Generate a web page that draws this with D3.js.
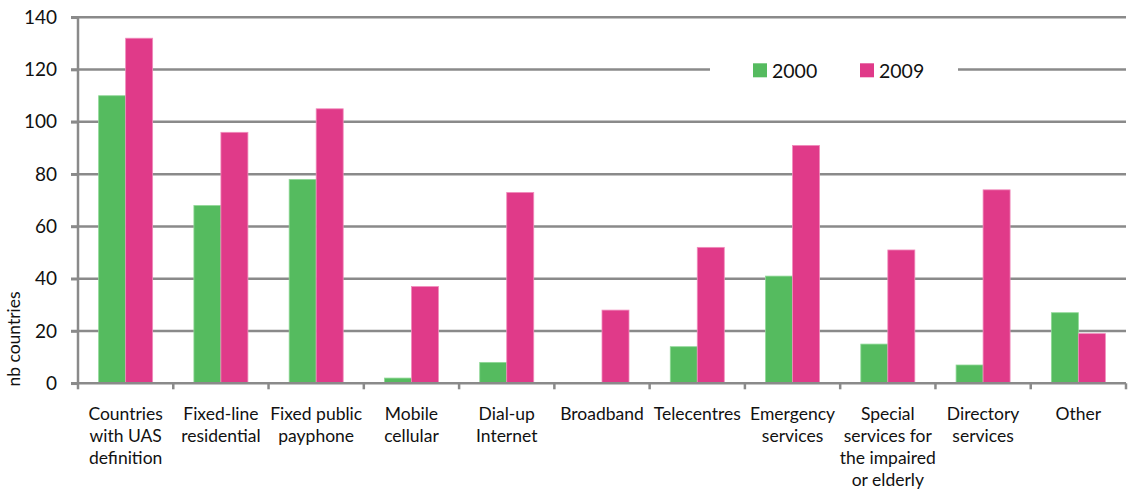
<!DOCTYPE html>
<html>
<head>
<meta charset="utf-8">
<script src="https://cdn.jsdelivr.net/npm/d3@7"></script>
<style>
  html, body { margin: 0; padding: 0; background: #fff; }
  svg { display: block; font-family: Lato, "Open Sans", sans-serif; }
</style>
</head>
<body>
<svg id="chart" width="1136" height="491"></svg>
<script>
// Universal access service obligations, number of countries
const categories = [
  ["Countries", "with UAS", "definition"],
  ["Fixed-line", "residential"],
  ["Fixed public", "payphone"],
  ["Mobile", "cellular"],
  ["Dial-up", "Internet"],
  ["Broadband"],
  ["Telecentres"],
  ["Emergency", "services"],
  ["Special", "services for", "the impaired", "or elderly"],
  ["Directory", "services"],
  ["Other"]
];
const seriesNames = ["2000", "2009"];
const values2000 = [110, 68, 78, 2, 8, 0, 14, 41, 15, 7, 27];
const values2009 = [132, 96, 105, 37, 73, 28, 52, 91, 51, 74, 19];
const yTicks = [0, 20, 40, 60, 80, 100, 120, 140];
const yTitle = "nb countries";

const colors = { "2000": "#55bb5f", "2009": "#e03a89" };
const strokes = { "2000": "#8fd896", "2009": "#f08cbc" };
const gridColor = "#8a8a8a";

const svg = d3.select("#chart");
const margin = { left: 78, right: 10, top: 17.3, bottom: 107.7 };
const W = 1136, H = 491;
const x0 = margin.left, x1 = W - margin.right;
const yTop = margin.top, yBot = H - margin.bottom;

const keys = categories.map((c, i) => i);
const x = d3.scaleBand().domain(keys).range([x0, x1]).paddingInner(0).paddingOuter(0);
const xs = d3.scaleBand().domain(seriesNames).range([0, x.bandwidth()])
  .paddingInner(0).paddingOuter(0.764);
const y = d3.scaleLinear().domain([0, 140]).range([yBot, yTop]);

// horizontal gridlines
svg.append("g").selectAll("line").data(yTicks.filter(d => d > 0)).join("line")
  .attr("x1", x0 - 7).attr("x2", x1)
  .attr("y1", d => y(d)).attr("y2", d => y(d))
  .attr("stroke", gridColor).attr("stroke-width", 2.5);

// y axis
const yAxis = svg.append("g").attr("transform", `translate(${x0},0)`)
  .call(d3.axisLeft(y).tickValues(yTicks).tickSize(7).tickPadding(14));
yAxis.select(".domain").attr("stroke", gridColor).attr("stroke-width", 2.5)
  .attr("d", `M0,${yTop}V${yBot}`);
yAxis.selectAll(".tick line").attr("stroke", gridColor).attr("stroke-width", 2.5);
yAxis.selectAll(".tick text").attr("font-size", 19).attr("fill", "#111")
  .attr("font-family", "Lato, sans-serif");

// y axis title
svg.append("text")
  .attr("transform", `translate(20,${339}) rotate(-90)`)
  .attr("text-anchor", "middle")
  .attr("font-size", 17.5).attr("fill", "#111")
  .text(yTitle);

// bars
const rows = categories.map((c, i) => ({ i, v: { "2000": values2000[i], "2009": values2009[i] } }));
const groups = svg.append("g").selectAll("g").data(rows).join("g")
  .attr("transform", d => `translate(${x(d.i)},0)`);
groups.selectAll("rect")
  .data(d => seriesNames.map(s => ({ s, v: d.v[s] })).filter(e => e.v > 0))
  .join("rect")
  .attr("x", d => xs(d.s))
  .attr("width", xs.bandwidth())
  .attr("y", d => y(d.v))
  .attr("height", d => y(0) - y(d.v))
  .attr("fill", d => colors[d.s])
  .attr("stroke", d => strokes[d.s]).attr("stroke-width", 0.8);

// x axis with ticks at category boundaries
const xa = svg.append("g");
xa.append("line").attr("x1", x0 - 7).attr("x2", x1)
  .attr("y1", yBot).attr("y2", yBot)
  .attr("stroke", gridColor).attr("stroke-width", 2.5);
const bounds = keys.map(k => x(k)).concat([x1]);
xa.selectAll("line.tk").data(bounds).join("line").attr("class", "tk")
  .attr("x1", d => d).attr("x2", d => d)
  .attr("y1", yBot).attr("y2", yBot + 6)
  .attr("stroke", gridColor).attr("stroke-width", 2.5);

// category labels
const lab = svg.append("g").selectAll("text").data(rows).join("text")
  .attr("text-anchor", "middle")
  .attr("font-size", 17.5).attr("fill", "#111")
  .attr("x", d => x(d.i) + x.bandwidth() / 2)
  .attr("y", yBot + 37);
lab.selectAll("tspan").data(d => categories[d.i]).join("tspan")
  .attr("x", function () { return d3.select(this.parentNode).attr("x"); })
  .attr("dy", (d, j) => j === 0 ? 0 : 22)
  .text(d => d);

// legend
const leg = svg.append("g");
leg.append("rect").attr("x", 710).attr("y", 55).attr("width", 248).attr("height", 30).attr("fill", "#fff");
const legX = [753, 860];
seriesNames.forEach((s, i) => {
  leg.append("rect").attr("x", legX[i]).attr("y", 63.3).attr("width", 14).attr("height", 14)
    .attr("fill", colors[s]);
  leg.append("text").attr("x", legX[i] + 19).attr("y", 78.3)
    .attr("font-size", 19.5).attr("fill", "#111").text(s);
});
</script>
</body>
</html>
